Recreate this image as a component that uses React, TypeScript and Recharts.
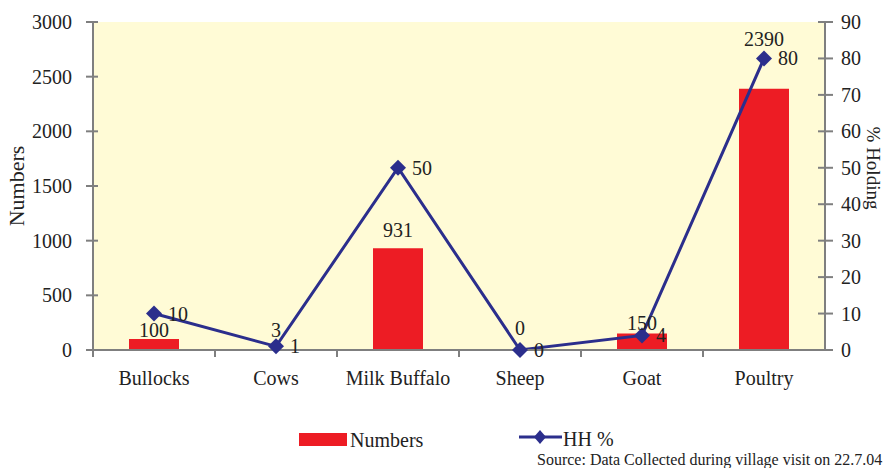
import React from "react";
import {
    ComposedChart,
    Bar,
    Line,
    XAxis,
    YAxis,
    CartesianGrid,
    LabelList,
} from "recharts";

const categories = ["Bullocks", "Cows", "Milk Buffalo", "Sheep", "Goat", "Poultry"];
const numbers = [100, 3, 931, 0, 150, 2390];
const hhPercent = [10, 1, 50, 0, 4, 80];
const numberTicks = [0, 500, 1000, 1500, 2000, 2500, 3000];
const percentTicks = [0, 10, 20, 30, 40, 50, 60, 70, 80, 90];

// how far each bar label sits above its bar (px), as placed in the original
const barLabelLift = [2, 13, 11, 15, 4, 43];

const FONT = "'Liberation Serif', 'Times New Roman', serif";
const RED = "#ED1C24";
const NAVY = "#2B2E8C";
const AXIS = "#7f7f7f";
const TEXT = "#222";

const chartData = categories.map((name, i) => ({
    name,
    numbers: numbers[i],
    hh: hhPercent[i],
}));

const Diamond = (props: any) => {
    const { cx, cy } = props;
    if (cx == null || cy == null) return null;
    const r = 8;
    return (
        <path
            d={`M${cx},${cy - r} L${cx + r},${cy} L${cx},${cy + r} L${cx - r},${cy} Z`}
            fill={NAVY}
        />
    );
};

const CategoryTick = (props: any) => {
    const { x, y, payload } = props;
    const half = payload.offset || 0;
    return (
        <g>
            <line x1={x - half} x2={x - half} y1={y} y2={y + 7} stroke={AXIS} strokeWidth={2} />
            <text x={x} y={y + 35} textAnchor="middle" fontFamily={FONT} fontSize={20} fill={TEXT}>
                {payload.value}
            </text>
        </g>
    );
};

const LeftTick = (props: any) => {
    const { x, y, payload } = props;
    return (
        <g>
            <line x1={x - 7} x2={x + 5} y1={y} y2={y} stroke={AXIS} strokeWidth={2} />
            <text x={x - 21} y={y + 7} textAnchor="end" fontFamily={FONT} fontSize={20} fill={TEXT}>
                {payload.value}
            </text>
        </g>
    );
};

const RightTick = (props: any) => {
    const { x, y, payload } = props;
    return (
        <g>
            <line x1={x - 7} x2={x + 8} y1={y} y2={y} stroke={AXIS} strokeWidth={2} />
            <text x={x + 16} y={y + 7} textAnchor="start" fontFamily={FONT} fontSize={20} fill={TEXT}>
                {payload.value}
            </text>
        </g>
    );
};

const AxisTitle = (props: any) => {
    const { viewBox, text, side } = props;
    const left = side === "left";
    const cx = left ? viewBox.x + 16 : viewBox.x + 48;
    const cy = viewBox.y + viewBox.height / 2 + (left ? 0 : -18);
    return (
        <text
            x={cx}
            y={cy}
            transform={`rotate(${left ? -90 : 90} ${cx} ${cy})`}
            textAnchor="middle"
            dominantBaseline="central"
            fontFamily={FONT}
            fontSize={left ? 22 : 19}
            fill={TEXT}
        >
            {text}
        </text>
    );
};

const BarValueLabel = (props: any) => {
    const { x, y, width, value } = props;
    const i = numbers.indexOf(Number(value));
    const lift = i >= 0 ? barLabelLift[i] : 2;
    return (
        <text
            x={x + width / 2}
            y={y - lift}
            textAnchor="middle"
            fontFamily={FONT}
            fontSize={20}
            fill={TEXT}
        >
            {value}
        </text>
    );
};

const LineValueLabel = (props: any) => {
    const { x, y, value } = props;
    return (
        <text x={x + 14} y={y + 7} textAnchor="start" fontFamily={FONT} fontSize={20} fill={TEXT}>
            {value}
        </text>
    );
};

export default function App() {
    return (
        <div style={{ position: "absolute", left: 0, top: 0, width: 884, height: 468, background: "#fff" }}>
            <ComposedChart
                width={884}
                height={468}
                data={chartData}
                margin={{ top: 22, right: 0, left: 0, bottom: 78 }}
            >
                <CartesianGrid horizontal={false} vertical={false} fill="#FFFBD6" />
                <XAxis
                    dataKey="name"
                    height={40}
                    tickSize={0}
                    tickMargin={0}
                    axisLine={{ stroke: AXIS, strokeWidth: 2 }}
                    tick={<CategoryTick />}
                    interval={0}
                />
                <YAxis
                    yAxisId="left"
                    width={93}
                    domain={[0, 3000]}
                    ticks={numberTicks}
                    tickSize={0}
                    tickMargin={0}
                    axisLine={{ stroke: AXIS, strokeWidth: 2 }}
                    tick={<LeftTick />}
                    label={<AxisTitle text="Numbers" side="left" />}
                />
                <YAxis
                    yAxisId="right"
                    orientation="right"
                    width={59}
                    domain={[0, 90]}
                    ticks={percentTicks}
                    tickSize={0}
                    tickMargin={0}
                    axisLine={{ stroke: AXIS, strokeWidth: 2 }}
                    tick={<RightTick />}
                    label={<AxisTitle text="% Holding" side="right" />}
                />
                <Bar
                    yAxisId="left"
                    dataKey="numbers"
                    fill={RED}
                    barSize={50}
                    minPointSize={0.01}
                    isAnimationActive={false}
                >
                    <LabelList dataKey="numbers" content={<BarValueLabel />} />
                </Bar>
                <Line
                    yAxisId="right"
                    dataKey="hh"
                    stroke={NAVY}
                    strokeWidth={3}
                    dot={<Diamond />}
                    activeDot={false}
                    isAnimationActive={false}
                >
                    <LabelList dataKey="hh" content={<LineValueLabel />} />
                </Line>
            </ComposedChart>
            <svg width={884} height={468} style={{ position: "absolute", left: 0, top: 0, pointerEvents: "none" }}>
                <rect x={299} y={433} width={48} height={13} fill={RED} />
                <text x={350} y={447} fontFamily={FONT} fontSize={20} fill={TEXT}>Numbers</text>
                <line x1={519} x2={562} y1={437} y2={437} stroke={NAVY} strokeWidth={3} />
                <path d="M540,430 L546,437 L540,444 L534,437 Z" fill={NAVY} />
                <text x={563} y={446} fontFamily={FONT} fontSize={20} fill={TEXT}>HH %</text>
                <text x={537} y={465} fontFamily={FONT} fontSize={16} fill={TEXT}>
                    Source: Data Collected during village visit on 22.7.04
                </text>
            </svg>
        </div>
    );
}
